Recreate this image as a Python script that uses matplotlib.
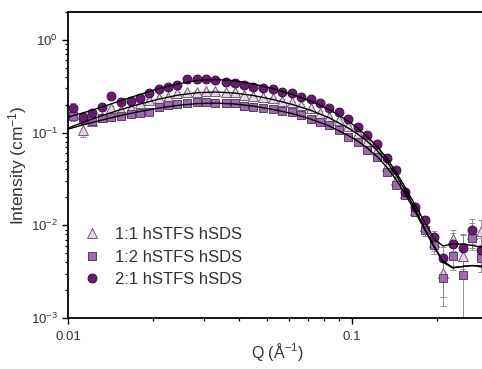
import matplotlib
matplotlib.use("Agg")
import matplotlib.pyplot as plt
import numpy as np

plt.rcParams["font.family"] = ["Liberation Sans", "DejaVu Sans"]
plt.rcParams["mathtext.default"] = "regular"

# Q values (1/A)
q = [0.01044, 0.01127, 0.01218, 0.01320, 0.01417, 0.01537, 0.01663, 0.01793,
     0.01933, 0.02091, 0.02256, 0.02426, 0.02631, 0.02840, 0.03061, 0.03302,
     0.03592, 0.03873, 0.04176, 0.04493, 0.04872, 0.05256, 0.05682, 0.06135,
     0.06631, 0.07155, 0.07716, 0.08320, 0.09000, 0.09705, 0.1047, 0.1132,
     0.1225, 0.1325, 0.1429, 0.1543, 0.1667, 0.1801, 0.1945, 0.2091,
     0.2262, 0.2450, 0.2646, 0.2846]

# 1:1 hSTFS hSDS (triangles)
i_11 = [0.160, 0.108, 0.135, 0.147, 0.186, 0.175, 0.183, 0.211, 0.225, 0.239,
        0.244, 0.265, 0.272, 0.276, 0.283, 0.278, 0.272, 0.271, 0.254, 0.250,
        0.244, 0.234, 0.221, 0.212, 0.199, 0.183, 0.164, 0.148, 0.137, 0.118,
        0.0990, 0.0812, 0.0649, 0.0436, 0.0308, 0.0223, 0.0146, 0.00983, 0.00661, 0.00306,
        0.00706, 0.00472, 0.00805, 0.00868]
# 1:2 hSTFS hSDS (squares)
i_12 = [0.151, 0.139, 0.132, 0.142, 0.146, 0.151, 0.159, 0.163, 0.165, 0.191,
        0.199, 0.201, 0.207, 0.212, 0.215, 0.211, 0.207, 0.207, 0.196, 0.191,
        0.184, 0.181, 0.169, 0.167, 0.155, 0.139, 0.129, 0.121, 0.107, 0.0890,
        0.0798, 0.0649, 0.0550, 0.0379, 0.0275, 0.0212, 0.0139, 0.00890, 0.00613, 0.00270,
        0.00472, 0.00291, 0.00729, 0.00449]
# 2:1 hSTFS hSDS (circles)
i_21 = [0.186, 0.146, 0.161, 0.190, 0.250, 0.212, 0.219, 0.238, 0.269, 0.295,
        0.313, 0.326, 0.376, 0.379, 0.379, 0.369, 0.354, 0.345, 0.326, 0.313,
        0.303, 0.292, 0.274, 0.265, 0.244, 0.229, 0.210, 0.186, 0.168, 0.139,
        0.114, 0.0942, 0.0753, 0.0528, 0.0395, 0.0230, 0.0158, 0.0113, 0.00748, 0.00447,
        0.00628, 0.00569, 0.00890, 0.00541]

# relative errors
e_11 = [0.10, 0.16, 0.10, 0.07, 0.05, 0.05, 0.04, 0.04, 0.03, 0.03,
        0.03, 0.03, 0.03, 0.03, 0.03, 0.03, 0.03, 0.03, 0.03, 0.03,
        0.03, 0.03, 0.03, 0.03, 0.03, 0.03, 0.03, 0.03, 0.03, 0.03,
        0.04, 0.04, 0.05, 0.06, 0.07, 0.08, 0.10, 0.14, 0.20, 0.45,
        0.26, 0.35, 0.30, 0.30]
e_12 = [0.12, 0.10, 0.10, 0.07, 0.05, 0.05, 0.04, 0.04, 0.03, 0.03,
        0.03, 0.03, 0.03, 0.03, 0.03, 0.03, 0.03, 0.03, 0.03, 0.03,
        0.03, 0.03, 0.03, 0.03, 0.03, 0.03, 0.03, 0.03, 0.03, 0.03,
        0.04, 0.04, 0.05, 0.06, 0.07, 0.08, 0.10, 0.14, 0.20, 0.50,
        0.30, 1.70, 0.25, 0.30]
e_21 = [0.13, 0.08, 0.08, 0.05, 0.05, 0.04, 0.04, 0.03, 0.03, 0.03,
        0.03, 0.03, 0.03, 0.03, 0.03, 0.03, 0.03, 0.03, 0.03, 0.03,
        0.03, 0.03, 0.03, 0.03, 0.03, 0.03, 0.03, 0.03, 0.03, 0.03,
        0.04, 0.04, 0.05, 0.06, 0.07, 0.08, 0.10, 0.12, 0.16, 0.30,
        0.30, 0.40, 0.30, 0.35]

# model fits
q_fit = [0.0100, 0.01127, 0.01320, 0.01537, 0.01793, 0.02091, 0.02426, 0.02840,
         0.03302, 0.03873, 0.04493, 0.05256, 0.06135, 0.07155, 0.08320, 0.09705,
         0.1047, 0.1132, 0.1225, 0.1325, 0.1429, 0.1543, 0.1667, 0.1801,
         0.1945, 0.2091, 0.2262, 0.2450, 0.2646, 0.2846, 0.2900]
fit_11 = [0.112, 0.1285, 0.153, 0.1775, 0.2035, 0.230, 0.253, 0.269, 0.274, 0.267,
          0.251, 0.228, 0.202, 0.174, 0.144, 0.112, 0.0966, 0.0802, 0.0641, 0.0488,
          0.0349, 0.0234, 0.0150, 0.00935, 0.00598, 0.00412, 0.00351, 0.00359, 0.00368,
          0.00364, 0.00364]
fit_12 = [0.109, 0.121, 0.137, 0.153, 0.169, 0.184, 0.1965, 0.2055, 0.208, 0.2035,
          0.193, 0.178, 0.161, 0.140, 0.118, 0.0930, 0.0812, 0.0682, 0.0552, 0.0425,
          0.0312, 0.0215, 0.0141, 0.00901, 0.00583, 0.00402, 0.00346, 0.00359, 0.00368,
          0.00359, 0.00359]
fit_21 = [0.147, 0.163, 0.189, 0.222, 0.258, 0.299, 0.334, 0.365, 0.374, 0.362,
          0.334, 0.299, 0.259, 0.219, 0.1775, 0.133, 0.112, 0.0908, 0.0708, 0.0532,
          0.0376, 0.0253, 0.0166, 0.0109, 0.00712, 0.00598, 0.00628, 0.00628, 0.00605,
          0.00583, 0.00583]

labels = ["1:1 hSTFS hSDS", "1:2 hSTFS hSDS", "2:1 hSTFS hSDS"]

fig = plt.figure(figsize=(4.82, 3.69), dpi=100)
ax = fig.add_axes([68 / 482, 51 / 369, 419.5 / 482, 306 / 369])

styles = [
    (i_11, e_11, "^", 7.0, "#e8d4e8", "#6e6074"),
    (i_12, e_12, "s", 5.6, "#9b6bab", "#5c3c68"),
    (i_21, e_21, "o", 6.4, "#6b1b6f", "#3c0a42"),
]
q_arr = np.array(q)
handles = []
for (vals, rel, mk, ms, fc, ec), lab in zip(styles, labels):
    v = np.array(vals)
    err = v * np.array(rel)
    ax.errorbar(q_arr, v, yerr=err, fmt="none", ecolor="#808080",
                elinewidth=0.6, capsize=2.5, capthick=0.6, zorder=1)
    h, = ax.plot(q_arr, v, linestyle="none", marker=mk, markersize=ms,
                 markerfacecolor=fc, markeredgecolor=ec, markeredgewidth=0.7,
                 label=lab, zorder=2)
    handles.append(h)

for f in [fit_11, fit_12, fit_21]:
    ax.plot(q_fit, f, color="black", linewidth=1.0, zorder=3)

ax.set_xscale("log")
ax.set_yscale("log")
ax.set_xlim(0.01, 0.3)
ax.set_ylim(1e-3, 2)
ax.set_xticks([0.01, 0.1])
ax.set_xticklabels(["0.01", "0.1"])

for s in ax.spines.values():
    s.set_linewidth(1.3)
ax.tick_params(which="major", direction="out", length=4, width=1.0,
               labelsize=9.5, colors="black", labelcolor="#333333")
ax.tick_params(which="minor", direction="out", length=2.5, width=0.9)
ax.tick_params(axis="x", which="major", pad=5)

ax.set_xlabel("Q (Å$^{-1}$)", fontsize=11.5, color="#333333", labelpad=-1)
ax.set_ylabel("Intensity (cm$^{-1}$)", fontsize=12.5, color="#333333", labelpad=1)

ax.legend(handles=handles, loc="upper left",
          bbox_to_anchor=(83.7 / 482, 142 / 369), bbox_transform=fig.transFigure,
          frameon=False, fontsize=12, handlelength=1.0, handletextpad=0.9,
          labelspacing=0.45, borderpad=0, borderaxespad=0, numpoints=1,
          labelcolor="#333333")

fig.savefig("out.png", dpi=100)
